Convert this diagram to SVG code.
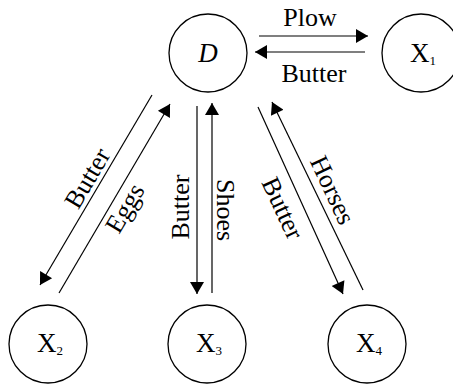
<svg xmlns="http://www.w3.org/2000/svg" width="453" height="384" viewBox="0 0 453 384">
<defs>
<style>
.node{fill:#fff;stroke:#000;stroke-width:1.3}
.lbl{font-family:"Liberation Serif","Times New Roman","DejaVu Serif",serif;font-size:26px;fill:#000;text-anchor:middle}
.nl{font-family:"Liberation Serif","Times New Roman","DejaVu Serif",serif;font-size:27px;fill:#000}
.sub{font-size:13px}
.edge{stroke:#000;stroke-width:1.2;fill:none;marker-end:url(#ah)}
</style>
<marker id="ah" markerUnits="userSpaceOnUse" markerWidth="14" markerHeight="14" viewBox="0 0 12 14" refX="12" refY="7" orient="auto">
<path d="M0,0 L12,7 L0,14 Z" fill="#000"/>
</marker>
</defs>
<rect width="453" height="384" fill="#fff"/>
<g id="connectors">
<line class="edge" x1="259" y1="36" x2="368" y2="36"/>
<line class="edge" x1="365" y1="52" x2="255" y2="52"/>
<line class="edge" x1="152" y1="95" x2="40" y2="285"/>
<line class="edge" x1="59" y1="293" x2="170" y2="104"/>
<line class="edge" x1="197" y1="106" x2="197" y2="294"/>
<line class="edge" x1="212" y1="293" x2="212" y2="103"/>
<line class="edge" x1="258" y1="107" x2="343" y2="294"/>
<line class="edge" x1="363" y1="290" x2="272" y2="102"/>
</g>
<g id="labels">
<text class="lbl" x="310" y="26">Plow</text>
<text class="lbl" x="314" y="82">Butter</text>
<text class="lbl" transform="translate(87,178) rotate(-59.5)" dy="9">Butter</text>
<text class="lbl" transform="translate(128,210) rotate(-59.5)" dy="5">Eggs</text>
<text class="lbl" transform="translate(180,207) rotate(-90)" dy="9">Butter</text>
<text class="lbl" transform="translate(226,210) rotate(90)" dy="9">Shoes</text>
<text class="lbl" transform="translate(283,208) rotate(65)" dy="9">Butter</text>
<text class="lbl" transform="translate(333,190) rotate(65)" dy="9">Horses</text>
</g>
<g id="node-D">
<circle class="node" cx="208" cy="53" r="39"/>
<text class="nl" x="208" y="62" text-anchor="middle" font-style="italic">D</text>
</g>
<g id="node-X1">
<circle class="node" cx="421" cy="53" r="39"/>
<text class="nl" x="410" y="62">X<tspan class="sub" dy="3">1</tspan></text>
</g>
<g id="node-X2">
<circle class="node" cx="48" cy="344" r="39"/>
<text class="nl" x="37" y="352">X<tspan class="sub" dy="3">2</tspan></text>
</g>
<g id="node-X3">
<circle class="node" cx="207" cy="344" r="39"/>
<text class="nl" x="196" y="352">X<tspan class="sub" dy="3">3</tspan></text>
</g>
<g id="node-X4">
<circle class="node" cx="367" cy="344" r="39"/>
<text class="nl" x="356" y="352">X<tspan class="sub" dy="3">4</tspan></text>
</g>
</svg>
